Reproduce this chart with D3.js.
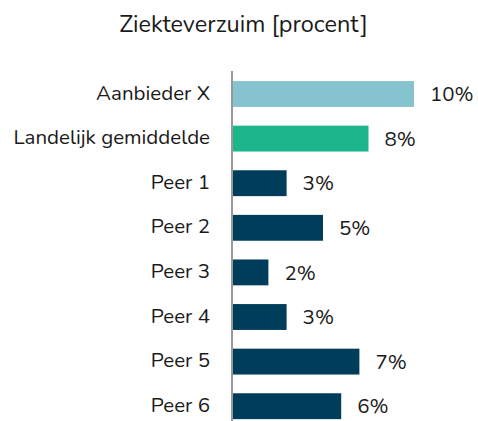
<!DOCTYPE html>
<html>
<head>
<meta charset="utf-8">
<script src="https://cdn.jsdelivr.net/npm/d3@7"></script>
<style>
  body { margin: 0; background: #fff; }
  text { font-family: "Nunito", Lato, "Open Sans", sans-serif; fill: #1a1a1a; }
</style>
</head>
<body>
<div id="viz_container"></div>
<script>
// data
const categories = ["Aanbieder X", "Landelijk gemiddelde", "Peer 1", "Peer 2", "Peer 3", "Peer 4", "Peer 5", "Peer 6"];
const values = [10.0, 7.5, 3.0, 5.0, 2.0, 3.0, 7.0, 6.0];
const barColors = ["#85c4cf", "#1bb68b", "#003d5a", "#003d5a", "#003d5a", "#003d5a", "#003d5a", "#003d5a"];
const title = "Ziekteverzuim [procent]";

const width = 478, height = 421;

const svg = d3.select("#viz_container")
    .append("svg")
    .attr("width", width)
    .attr("height", height);

// scales
const xScale = d3.scaleLinear()
    .domain([0, 10])
    .range([232, 414]);

const yScale = d3.scaleBand()
    .domain(categories)
    .range([71.7, 428.5])
    .paddingInner(0.42)
    .paddingOuter(0.21);

// title
svg.append("text")
    .attr("x", 243.5)
    .attr("y", 31.5)
    .attr("text-anchor", "middle")
    .style("font-size", "23.5px")
    .text(title);

// bars
svg.append("g")
    .selectAll("rect")
    .data(categories)
    .join("rect")
    .attr("x", xScale(0))
    .attr("y", d => yScale(d))
    .attr("width", (d, i) => xScale(values[i]) - xScale(0))
    .attr("height", yScale.bandwidth())
    .attr("fill", (d, i) => barColors[i]);

// value labels
svg.append("g")
    .selectAll("text")
    .data(categories)
    .join("text")
    .attr("x", (d, i) => xScale(values[i]) + 16)
    .attr("y", d => yScale(d) + yScale.bandwidth() / 2)
    .attr("dy", "0.35em")
    .style("font-size", "20.5px")
    .text((d, i) => Math.round(values[i]) + "%");

// y axis
svg.append("g")
    .attr("transform", `translate(${xScale(0)}, 0)`)
    .call(d3.axisLeft(yScale).tickSize(0).tickPadding(22))
    .call(g => g.select(".domain").attr("stroke", "#999").attr("stroke-width", 2)
        .attr("d", `M0,71V${height}`))
    .call(g => g.selectAll("text").style("font-size", "20.5px").attr("fill", "#1a1a1a")
        .attr("font-family", null).attr("dy", "0.27em"));
</script>
</body>
</html>
